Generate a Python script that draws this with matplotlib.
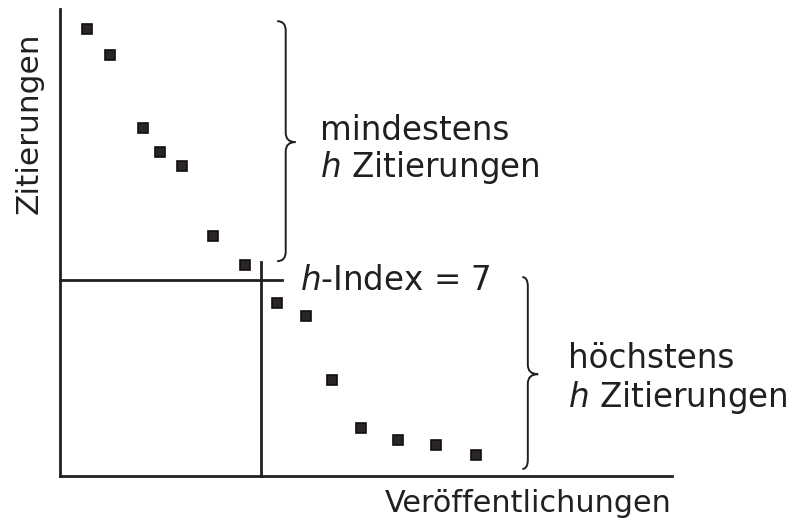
import matplotlib
matplotlib.use("Agg")
import matplotlib.pyplot as plt
from matplotlib.path import Path
from matplotlib.patches import PathPatch

# publications ranked by citations (positions along the x axis, arbitrary units)
publications = [4.4, 8.2, 13.7, 16.4, 20.1, 25.2, 30.4, 35.7, 40.5, 44.7, 49.5, 55.6, 61.8, 68.4]
citations = [95.7, 90.1, 74.5, 69.4, 66.4, 51.4, 45.2, 37.0, 34.3, 20.6, 10.3, 7.7, 6.6, 4.5]
h_index = 7
h_x = 33.1
h_y = 42.0

INK = "#231f20"
W, H = 793, 521

plt.rcParams["font.family"] = ["DejaVu Sans"]
plt.rcParams["mathtext.fontset"] = "dejavusans"


def brace(ax, x0, x1, x2, ytop, ymid, ybot, r):
    # right-pointing curly brace, x0 hook end, x1 spine, x2 tip
    verts = [
        (x0, ytop), (x1, ytop), (x1, ytop - r),
        (x1, ymid + r),
        (x1, ymid), (x2, ymid),
        (x1, ymid), (x1, ymid - r),
        (x1, ybot + r),
        (x1, ybot), (x0, ybot),
    ]
    codes = [Path.MOVETO, Path.CURVE3, Path.CURVE3,
             Path.LINETO,
             Path.CURVE3, Path.CURVE3,
             Path.CURVE3, Path.CURVE3,
             Path.LINETO,
             Path.CURVE3, Path.CURVE3]
    ax.add_patch(PathPatch(Path(verts, codes), fill=False, ec=INK, lw=1.4, clip_on=False))


fig = plt.figure(figsize=(W / 100, H / 100), dpi=100)
ax = fig.add_axes([60 / W, (H - 476) / H, 612 / W, 467 / H])
ax.set_xlim(0, 100.6)
ax.set_ylim(0, 100)
for s in ["top", "right"]:
    ax.spines[s].set_visible(False)
for s in ["left", "bottom"]:
    ax.spines[s].set_color(INK)
    ax.spines[s].set_linewidth(2.0)
ax.set_xticks([])
ax.set_yticks([])

ax.plot(publications, citations, ls="none", marker="s", ms=7.5, mfc="#2a2626", mec="#140f0f", mew=1.2, clip_on=False)

# h-index lines
ax.plot([0, 36.5], [h_y, h_y], color=INK, lw=2.0, clip_on=False)
ax.plot([h_x, h_x], [0, 45.8], color=INK, lw=2.0, clip_on=False)

brace(ax, 35.7, 37.1, 38.7, 97.4, 71.5, 46.0, 2.0)
brace(ax, 76.0, 76.9, 78.6, 42.6, 21.8, 1.5, 2.0)

fs = 23.5
txt = dict(fontsize=fs, color="#231f20", va="center", ha="left")
fig.text(320 / W, 1 - 130 / H, "mindestens", **txt)
fig.text(320 / W, 1 - 167 / H, "$h$ Zitierungen", **txt)
fig.text(300 / W, 1 - 281 / H, "$h$-Index = %d" % h_index, **txt)
fig.text(568 / W, 1 - 358 / H, "höchstens", **txt)
fig.text(568 / W, 1 - 397 / H, "$h$ Zitierungen", **txt)
fig.text(672 / W, 1 - 503 / H, "Veröffentlichungen", fontsize=21.8, color="#231f20", va="center", ha="right")
fig.text(29 / W, 1 - 123 / H, "Zitierungen", fontsize=22.5, color="#231f20", va="center", ha="center", rotation=90)

fig.savefig("out.png", dpi=100)
